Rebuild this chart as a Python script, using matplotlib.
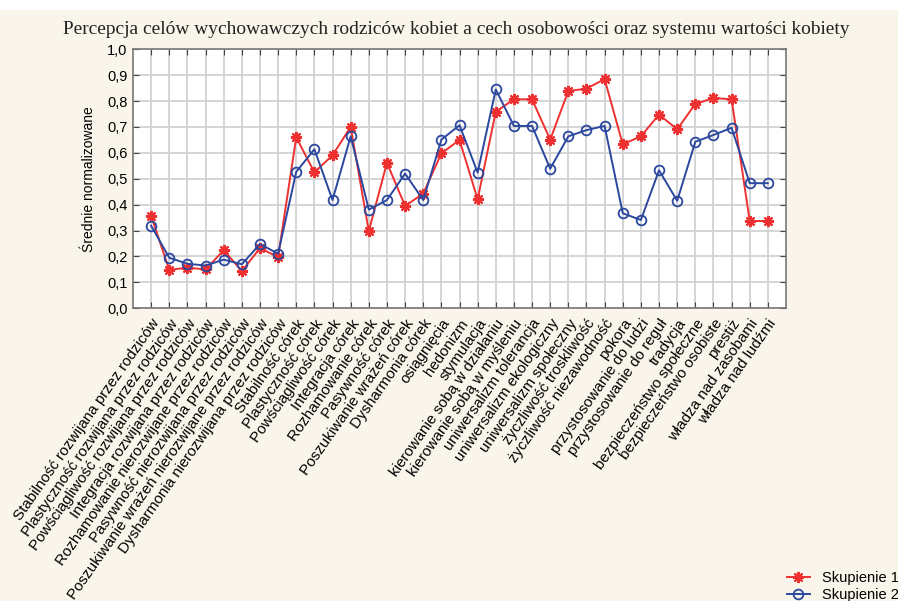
import numpy as np
import matplotlib
matplotlib.use("Agg")
import matplotlib.pyplot as plt
from matplotlib.ticker import MultipleLocator, FuncFormatter

# ================================
# Data
# ================================
categories = [
    "Stabilność rozwijana przez rodziców",
    "Plastyczność rozwijana przez rodziców",
    "Powściągliwość rozwijana przez rodziców",
    "Integracja rozwijana przez rodziców",
    "Rozhamowanie nierozwijane przez rodziców",
    "Pasywność nierozwijana przez rodziców",
    "Poszukiwanie wrażeń nierozwijane przez rodziców",
    "Dysharmonia nierozwijana przez rodziców",
    "Stabilność córek",
    "Plastyczność córek",
    "Powściągliwość córek",
    "Integracja córek",
    "Rozhamowanie córek",
    "Pasywność córek",
    "Poszukiwanie wrażeń córek",
    "Dysharmonia córek",
    "osiągnięcia",
    "hedonizm",
    "stymulacja",
    "kierowanie sobą w działaniu",
    "kierowanie sobą w myśleniu",
    "uniwersalizm tolerancja",
    "uniwersalizm ekologiczny",
    "uniwersalizm społeczny",
    "życzliwość troskliwość",
    "życzliwość niezawodność",
    "pokora",
    "przystosowanie do ludzi",
    "przystosowanie do reguł",
    "tradycja",
    "bezpieczeństwo społeczne",
    "bezpieczeństwo osobiste",
    "prestiż",
    "władza nad zasobami",
    "władza nad ludźmi",
]

skupienie_1 = [0.357, 0.148, 0.157, 0.150, 0.224, 0.144, 0.232, 0.198,
               0.660, 0.525, 0.591, 0.700, 0.298, 0.562, 0.395, 0.443,
               0.598, 0.650, 0.421, 0.759, 0.807, 0.807, 0.651, 0.839,
               0.848, 0.885, 0.633, 0.664, 0.748, 0.691, 0.789, 0.812,
               0.807, 0.337, 0.337]

skupienie_2 = [0.319, 0.195, 0.172, 0.165, 0.188, 0.170, 0.248, 0.211,
               0.527, 0.614, 0.418, 0.664, 0.381, 0.418, 0.520, 0.418,
               0.651, 0.707, 0.524, 0.845, 0.704, 0.704, 0.539, 0.664,
               0.688, 0.704, 0.367, 0.341, 0.533, 0.415, 0.643, 0.669,
               0.697, 0.483, 0.483]

title = "Percepcja celów wychowawczych rodziców kobiet a cech osobowości oraz systemu wartości kobiety"

# ================================
# Plot
# ================================
bg = "#FAF5EA"
red = "#EE3030"
blue = "#2B479E"

fig = plt.figure(figsize=(8.98, 6.01), dpi=100, facecolor=bg)
ax = fig.add_axes([133 / 898, 1 - 308.3 / 601, (786 - 133) / 898, (308.3 - 49.3) / 601])

x = np.arange(1, len(categories) + 1)

ax.plot(x, skupienie_1, color=red, lw=1.4, marker=(8, 2, 0), ms=8, mew=1.5,
        label="Skupienie 1", zorder=3)
ax.plot(x, skupienie_2, color=blue, lw=1.4, marker="o", ms=7, mew=1.3,
        mfc="none", label="Skupienie 2", zorder=3)

ax.set_xlim(0, len(categories) + 1)
ax.set_ylim(0, 1.0)
ax.set_xticks(x)
ax.set_xticklabels(categories, rotation=55, ha="right", rotation_mode="anchor",
                   fontsize=10.9, family="Liberation Sans")
ax.yaxis.set_major_locator(MultipleLocator(0.1))
ax.yaxis.set_major_formatter(FuncFormatter(lambda v, p: f"{v:.1f}".replace(".", ",")))
for lab in ax.get_yticklabels():
    lab.set_family("Liberation Sans")
    lab.set_fontsize(10.5)

ax.grid(True, color="#D2D2D2", lw=1.3, zorder=0)
ax.set_axisbelow(True)
ax.tick_params(axis="both", direction="in", length=4, color="#444444",
               top=True, right=True, pad=4)
ax.tick_params(axis="x", pad=6)
for s in ax.spines.values():
    s.set_color("#777777")
    s.set_linewidth(1.2)

ax.set_ylabel("Średnie normalizowane", fontsize=10, family="Liberation Sans", labelpad=8)

fig.text(456.5 / 898, 1 - 29 / 601, title, ha="center", va="center",
         fontsize=13.95, family="Liberation Serif", color="#222222")

# white strip at top of image
fig.patches.append(plt.Rectangle((0, 1 - 10 / 601), 1, 10 / 601, transform=fig.transFigure,
                                 facecolor="white", edgecolor="none", zorder=-1))

fig.legend(loc="lower right", bbox_to_anchor=(1.012, -0.018), frameon=False,
           prop={"family": "Liberation Sans", "size": 10.5},
           handlelength=1.6, labelspacing=0.15, borderaxespad=0.3)

fig.savefig("out.png", dpi=100, facecolor=bg)
